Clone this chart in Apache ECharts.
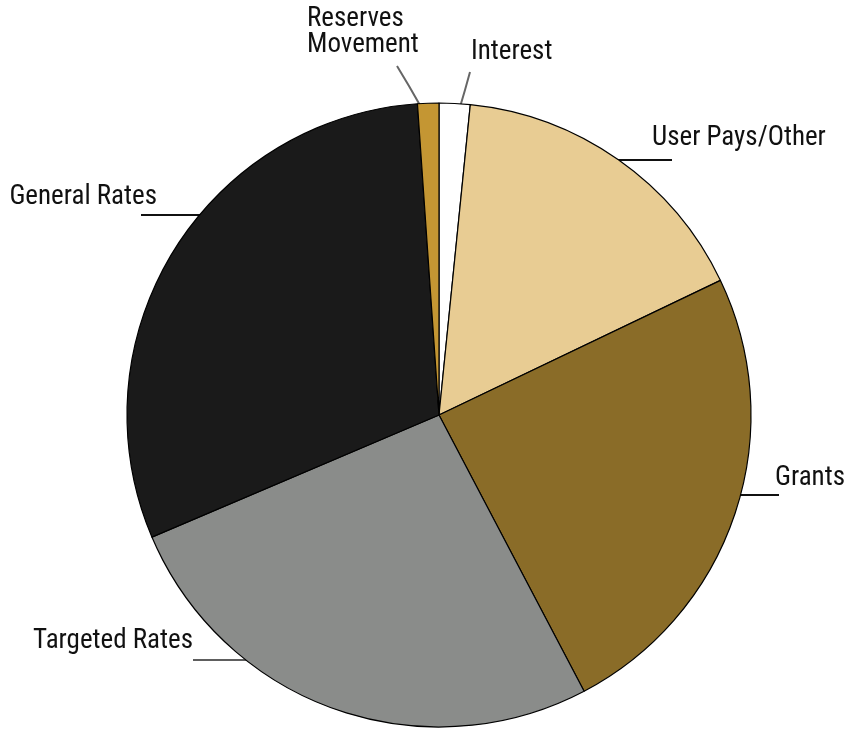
<!DOCTYPE html>
<html>
<head>
<meta charset="utf-8">
<script src="https://cdn.jsdelivr.net/npm/echarts@6/dist/echarts.min.js"></script>
<style>html,body{margin:0;padding:0;background:#fff}#c{width:845px;height:730px}</style>
</head>
<body>
<div id="c"></div>
<script>
var categories = ["Interest", "User Pays/Other", "Grants", "Targeted Rates", "General Rates", "Reserves\nMovement"];
var values = [1.6, 16.3, 24.4, 26.3, 30.3, 1.1];
var colors = ["#ffffff", "#e8cc93", "#8a6c28", "#8a8c8a", "#1a1a1a", "#c49633"];
var lineColors = ["#666666", "#111111", "#111111", "#5e5e5e", "#111111", "#666666"];
// label placement (style only)
var labelPos = [
  {x: 471, y: 52, align: 'left', pts: [[460, 107], [465, 90], [470, 72]]},
  {x: 652, y: 138, align: 'left', pts: [[604, 160], [640, 160], [672, 160]]},
  {x: 775, y: 478, align: 'left', pts: [[728, 495], [750, 495], [779, 495]]},
  {x: 193, y: 641, align: 'right', pts: [[262, 660], [230, 660], [193, 660]]},
  {x: 157, y: 197, align: 'right', pts: [[208, 215], [175, 215], [141, 215]]},
  {x: 307, y: 32, align: 'left', pts: [[421, 107], [409, 86], [397, 66]]}
];
var data = categories.map(function (c, i) {
  return {
    name: c, value: values[i],
    itemStyle: {color: colors[i]},
    labelLine: {lineStyle: {color: lineColors[i], width: 2}}
  };
});
var chart = echarts.init(document.getElementById('c'), null, {renderer: 'canvas'});
chart.setOption({
  animation: false,
  series: [{
    type: 'pie',
    center: [439, 415],
    radius: 312,
    startAngle: 90,
    clockwise: true,
    avoidLabelOverlap: false,
    itemStyle: {borderColor: '#000', borderWidth: 1.2},
    label: {
      show: true,
      formatter: '{b}',
      color: '#111',
      fontSize: 27,
      lineHeight: 26,
      fontWeight: 'normal',
      fontFamily: '"Liberation Sans Narrow", "Roboto Condensed", "DejaVu Sans Condensed", sans-serif'
    },
    labelLine: {show: true, length: 20, length2: 20},
    emphasis: {disabled: true},
    labelLayout: function (p) {
      var lp = labelPos[p.dataIndex];
      return {x: lp.x, y: lp.y, align: lp.align, verticalAlign: 'middle', labelLinePoints: lp.pts};
    },
    data: data
  }]
});
</script>
</body>
</html>
